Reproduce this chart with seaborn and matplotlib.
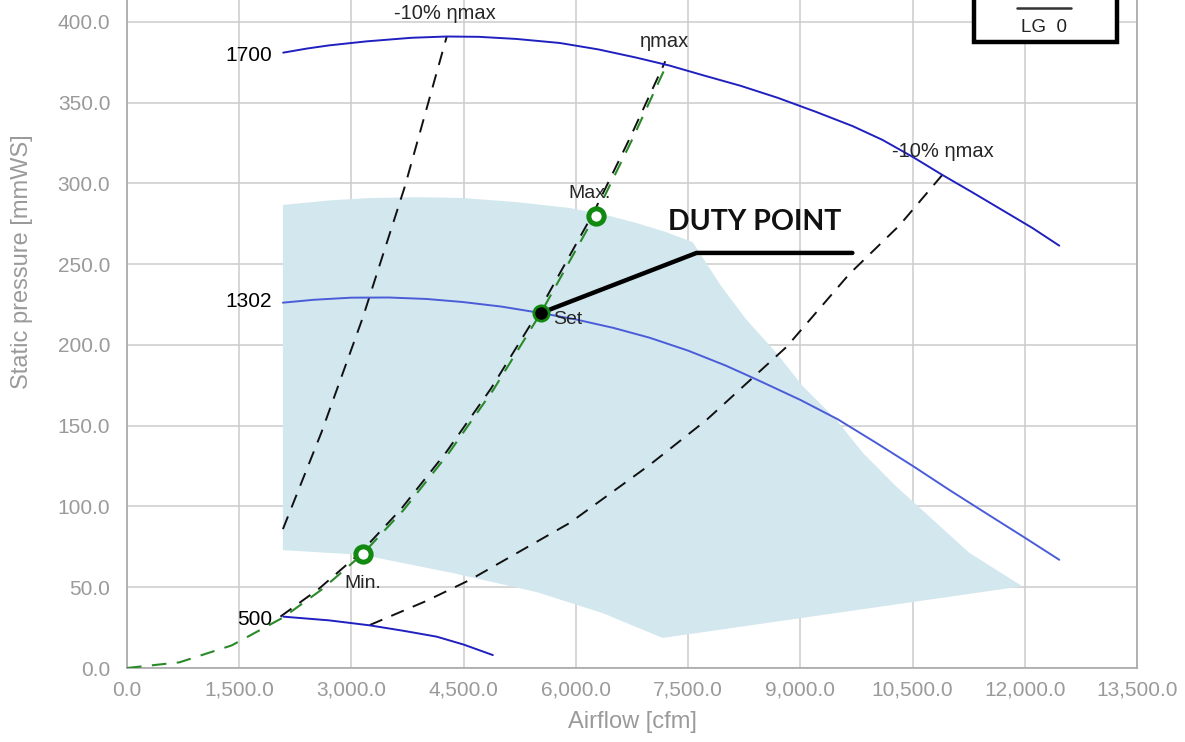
import numpy as np
import pandas as pd
import matplotlib
matplotlib.use("Agg")
import matplotlib.pyplot as plt
import matplotlib.transforms as mtransforms
from matplotlib.patches import Polygon, Rectangle
from matplotlib.ticker import FuncFormatter
import seaborn as sns

# ---------------- data ----------------
fan1700_q = [2088, 2400, 2700, 3205, 3800, 4274, 4700, 5200, 5783, 6300, 6800, 7252, 7700,
             8200, 8700, 9200, 9700, 10097, 10500, 10898, 11300, 11700, 12100, 12461]
fan1700_p = [381.0, 383.5, 385.5, 388.0, 390.2, 391.0, 390.8, 389.5, 387.0, 383.0, 378.0,
             373.0, 367.0, 360.5, 353.0, 344.5, 335.5, 327.0, 316.5, 305.3, 294.5, 283.5,
             272.5, 261.5]

fan1302_q = [2084, 2500, 3000, 3500, 4000, 4488, 5000, 5531, 6000, 6500, 6985, 7500, 8000,
             8321, 8500, 9000, 9500, 10000, 10500, 11000, 11500, 12000, 12461]
fan1302_p = [226.2, 228.0, 229.3, 229.4, 228.5, 226.6, 223.8, 219.8, 215.8, 210.6, 204.5,
             196.5, 187.3, 180.6, 176.8, 166.0, 154.0, 139.8, 125.2, 110.0, 95.3, 80.7, 67.0]

fan500_q = [2088, 2700, 3245, 3700, 4140, 4500, 4890]
fan500_p = [31.8, 29.5, 26.4, 23.0, 19.4, 14.5, 8.0]

fan_labels = ["1700", "1302", "500"]
fan_label_p = [379, 227, 30]

# system curve through the duty point (eta max)
sys_q = [0, 700, 1400, 2084, 2600, 3148, 3700, 4300, 4900, 5531, 6266, 6750, 7228]
sys_p = [0.0, 3.5, 14.0, 31.2, 48.5, 70.5, 98.0, 133.0, 172.5, 219.8, 281.0, 327.0, 375.0]

# -10% eta max lines
left10_q = [2084, 2600, 3152, 3713, 4274]
left10_p = [86.0, 146.0, 217.0, 298.0, 391.0]
right10_q = [3245, 4000, 4581, 5917, 6985, 7746, 8815, 9656, 10324, 10903]
right10_p = [26.6, 41.5, 54.5, 89.8, 125.7, 153.6, 198.8, 244.0, 274.0, 305.6]

# operating area (light blue)
area_q = [2084, 2700, 3245, 3900, 4488, 5200, 5917, 6400, 6812, 7200, 7560, 7943, 8277,
          8677, 9033, 9479, 9835, 10280, 10769, 11259, 11967,
          7159, 6357, 5476, 4354, 3151, 2084]
area_p = [286.7, 289.5, 291.0, 291.5, 291.0, 288.5, 284.8, 280.5, 275.5, 270.0, 263.7, 236.4,
          215.8, 195.2, 174.5, 153.8, 133.2, 112.5, 91.9, 71.3, 50.6,
          18.6, 34.0, 47.0, 58.8, 70.0, 73.0]

# special points
min_pt = (3148, 70.5)
set_pt = (5531, 219.8)
max_pt = (6264, 280.0)

x_ticks = [0, 1500, 3000, 4500, 6000, 7500, 9000, 10500, 12000, 13500]
y_ticks = [0, 50, 100, 150, 200, 250, 300, 350, 400]

# ---------------- plot ----------------
sns.set_style("white")
plt.rcParams["font.family"] = ["Liberation Sans", "DejaVu Sans"]

fig = plt.figure(figsize=(11.85, 7.42), dpi=100)
ax = fig.add_axes([127 / 1185, 74 / 742, 1010 / 1185, 668 / 742])
ax.set_xlim(0, 13500)
ax.set_ylim(0, 413.6)

grid_c = "#cccccc"
for xv in x_ticks:
    ax.axvline(xv, color=grid_c, lw=1.1, zorder=0)
for yv in y_ticks:
    ax.axhline(yv, color=grid_c, lw=1.1, zorder=0)

ax.add_patch(Polygon(np.column_stack([area_q, area_p]), closed=True,
                     facecolor="#d3e7ef", edgecolor="none", zorder=1))

dash = (0, (7, 5))
# eta max system curve (green dashed + black dashed twin)
sns.lineplot(x=sys_q, y=sys_p, ax=ax, sort=False, estimator=None, color="#2a8a2a",
             lw=1.5, linestyle=dash, zorder=3)
off = mtransforms.offset_copy(ax.transData, fig=fig, x=-2.5, y=1.0, units="dots")
ax.plot(sys_q[3:], sys_p[3:], color="#111111", lw=1.4, linestyle=dash, transform=off, zorder=3)

sns.lineplot(x=left10_q, y=left10_p, ax=ax, sort=False, estimator=None, color="#111111",
             lw=1.4, linestyle=dash, zorder=3)
sns.lineplot(x=right10_q, y=right10_p, ax=ax, sort=False, estimator=None, color="#111111",
             lw=1.4, linestyle=dash, zorder=3)

# fan curves
sns.lineplot(x=fan1700_q, y=fan1700_p, ax=ax, sort=False, estimator=None, color="#2020c0", lw=1.4, zorder=4)
sns.lineplot(x=fan1302_q, y=fan1302_p, ax=ax, sort=False, estimator=None, color="#4a5cd8", lw=1.4, zorder=4)
sns.lineplot(x=fan500_q, y=fan500_p, ax=ax, sort=False, estimator=None, color="#2020c0", lw=1.4, zorder=4)

label_q = 1940
for lab, p in zip(fan_labels, fan_label_p):
    ax.text(label_q, p, lab, ha="right", va="center", fontsize=15, color="black", zorder=6)

# markers
green = "#128a12"
ax.plot(*min_pt, marker="o", ms=11, mfc="white", mec=green, mew=3.6, zorder=6)
ax.plot(*max_pt, marker="o", ms=11, mfc="white", mec=green, mew=3.6, zorder=6)
ax.text(min_pt[0], 52.5, "Min.", ha="center", va="center", fontsize=14, zorder=6)
ax.text(max_pt[0] - 80, 294, "Max.", ha="center", va="center", fontsize=14, zorder=6)
ax.text(5690, 216, "Set", ha="left", va="center", fontsize=14, zorder=6)

# duty point annotation
ax.plot([set_pt[0], 7613, 9696], [set_pt[1], 257, 257], color="black", lw=3.2,
        solid_capstyle="round", zorder=7)
ax.plot(*set_pt, marker="o", ms=11, mfc="black", mec=green, mew=2, zorder=8)
ax.text(8390, 276, "DUTY POINT", ha="center", va="center", fontsize=20.5, fontweight="bold",
        family=["Lato", "DejaVu Sans"], color="#111111", zorder=8)

# line labels
ax.text(4248, 405.5, "-10% ηmax", ha="center", va="center", fontsize=14.5, clip_on=False, zorder=6)
ax.text(7186, 388, "ηmax", ha="center", va="center", fontsize=14.5, zorder=6)
ax.text(10903, 319.5, "-10% ηmax", ha="center", va="center", fontsize=14.5, zorder=6)

# "LG 0" box (cropped at the top)
ax.add_patch(Rectangle((11326, 387.6), 13236 - 11326, 40, facecolor="white",
                       edgecolor="black", lw=3.2, clip_on=False, zorder=9))
ax.plot([11900, 12620], [408.5, 408.5], color="#333333", lw=1.8, clip_on=False, zorder=10)
ax.text(12261, 396.5, "LG  0", ha="center", va="center", fontsize=13.5, color="#222222",
        clip_on=False, zorder=10)

# axes styling
ax.set_xticks(x_ticks)
ax.set_yticks(y_ticks)
ax.xaxis.set_major_formatter(FuncFormatter(lambda v, p: f"{v:,.1f}"))
ax.yaxis.set_major_formatter(FuncFormatter(lambda v, p: f"{v:.1f}"))
ax.tick_params(axis="both", length=0, labelsize=15, labelcolor="#9a9a9a")
ax.tick_params(axis="y", pad=12)
ax.tick_params(axis="x", pad=9)
for s in ["left", "bottom", "right"]:
    ax.spines[s].set_color("#a8a8a8")
    ax.spines[s].set_linewidth(1.2)
ax.spines["top"].set_visible(False)

ax.set_xlabel("Airflow [cfm]", fontsize=17, color="#9a9a9a")
ax.set_ylabel("Static pressure [mmWS]", fontsize=17, color="#9a9a9a")
ax.xaxis.set_label_coords(0.5, -0.064)
ax.yaxis.set_label_coords(-0.093, 0.608)

fig.savefig("out.png", dpi=100)
